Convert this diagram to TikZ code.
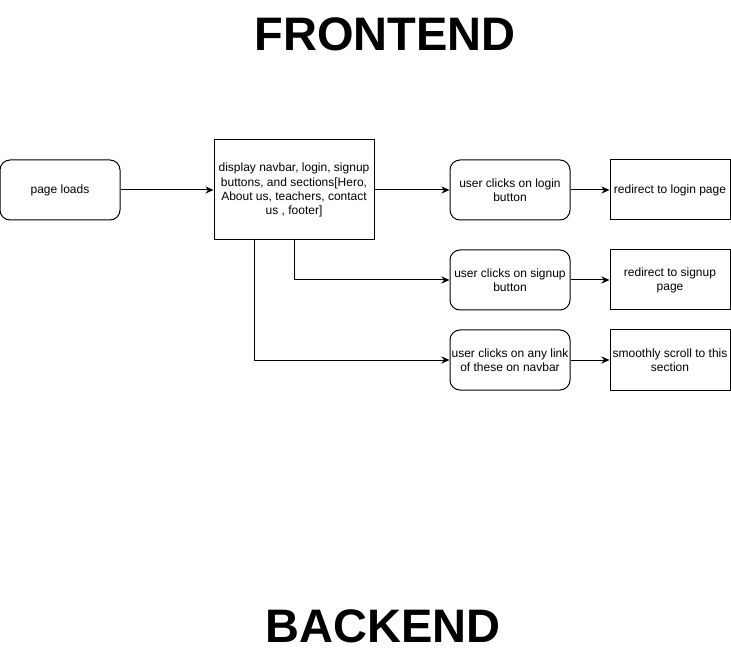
\documentclass[tikz,border=0pt]{standalone}
\usepackage{fontspec}
\setmainfont{Liberation Sans}
\usetikzlibrary{arrows.meta,positioning}
\begin{document}
\begin{tikzpicture}[x=1pt,y=-1pt,
  base/.style={draw=black,line width=1pt,align=center,inner sep=1pt,
    font=\fontsize{12}{14.2}\selectfont},
  rbox/.style={base,rounded corners=10pt,minimum width=120pt,minimum height=60pt},
  sbox/.style={base,minimum width=120pt,minimum height=60pt},
  title/.style={font=\fontsize{47}{50}\selectfont\bfseries,inner sep=0pt},
  conn/.style={draw=black,line width=1pt,-{Stealth[length=8pt,width=7pt,inset=2.5pt]}}]
\useasboundingbox (0,0) rectangle (731,660);
\node[title] (fe) at (385,34) {FRONTEND};
\node[title] (be) at (383,626) {BACKEND};
\node[rbox] (load) at (60,190) {page loads};
\node[base,minimum width=160pt,minimum height=100pt] (disp) at (294,190)
  {display navbar, login, signup\\ buttons, and sections[Hero,\\ About us, teachers, contact\\ us , footer]};
\node[rbox] (login) at (510,190) {user clicks on login\\ button};
\node[sbox] (rlogin) at (670,190) {redirect to login page};
\node[rbox] (signup) at (510,280) {user clicks on signup\\ button};
\node[sbox] (rsignup) at (670,280) {redirect to signup\\ page};
\node[rbox] (link) at (510,360) {user clicks on any link\\ of these on navbar};
\node[sbox] (scroll) at (670,360) {smoothly scroll to this\\ section};
\draw[conn] (load) -- (disp);
\draw[conn] (disp) -- (login);
\draw[conn] (login) -- (rlogin);
\draw[conn] (signup) -- (rsignup);
\draw[conn] (link) -- (scroll);
\draw[conn] (disp.south) |- (signup.west);
\draw[conn] ([xshift=-40pt]disp.south) |- (link.west);
\end{tikzpicture}
\end{document}
